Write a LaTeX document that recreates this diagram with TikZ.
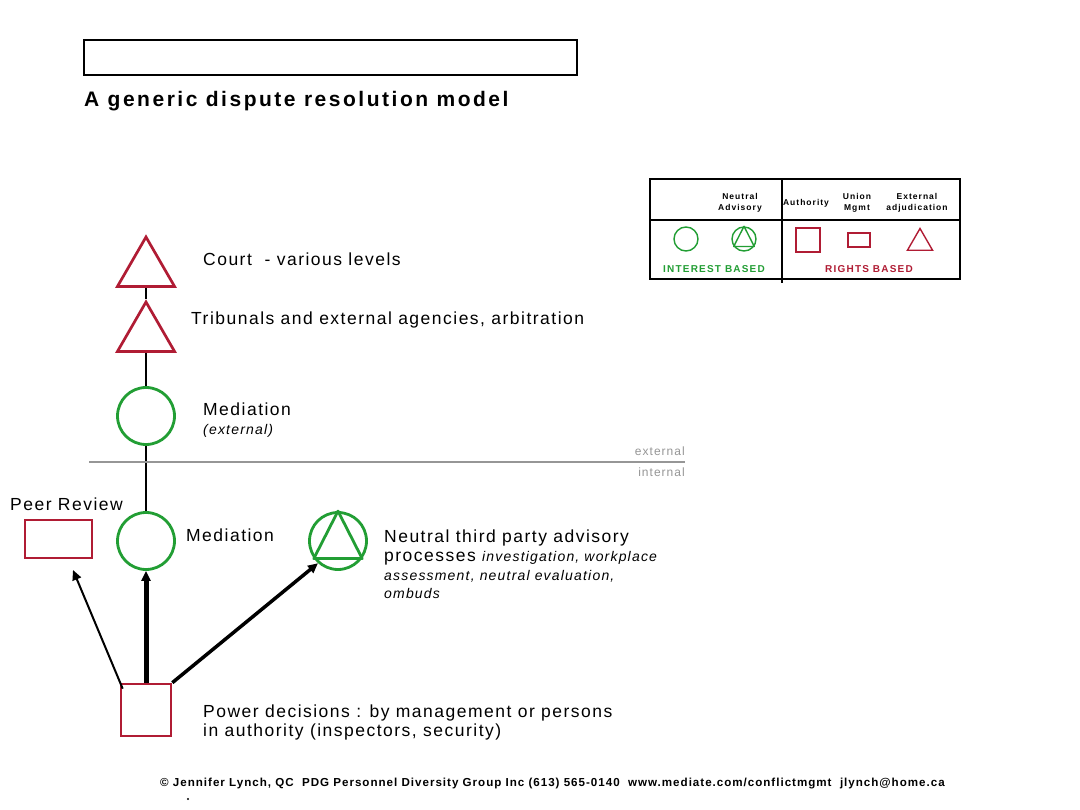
\documentclass[tikz,border=0pt]{standalone}
\usepackage{fontspec}
\setmainfont{Liberation Sans}
\newfontfamily\spaced[LetterSpace=8.5]{Liberation Sans}
\newfontfamily\wspaced[LetterSpace=12]{Liberation Sans}
\usetikzlibrary{shapes.geometric,arrows.meta}
\definecolor{rred}{RGB}{176,28,52}
\definecolor{ggreen}{RGB}{34,158,52}
\definecolor{lgray}{RGB}{150,150,150}
\begin{document}
\begin{tikzpicture}[x=1pt,y=-1pt,
 tri/.style={regular polygon,regular polygon sides=3,draw=rred,line width=2.7pt,minimum size=66pt,inner sep=0pt},
 circ/.style={circle,draw=ggreen,line width=2.8pt,minimum size=57pt,inner sep=0pt},
 sqbox/.style={rectangle,draw=rred,inner sep=0pt},
 lbl/.style={anchor=base west,inner sep=0pt,font=\spaced\fontsize{17.5}{20}\selectfont},
 sm/.style={anchor=base west,inner sep=0pt,font=\spaced\fontsize{14}{16}\selectfont\itshape},
 hdr/.style={align=center,inner sep=0pt,font=\wspaced\fontsize{8.5}{10.5}\selectfont\bfseries},
 lgc/.style={circle,draw=ggreen,line width=1.4pt,minimum size=24pt,inner sep=0pt},
 conn/.style={line width=1.2pt},
 arr/.style={-{Triangle[length=10pt,width=9pt]}}
]
\useasboundingbox[fill=white] (0,0) rectangle (1080,810);

% title
\draw[line width=1.2pt] (84,40) rectangle (577,75);
\node[anchor=base west,inner sep=0pt,font=\wspaced\fontsize{21}{24}\selectfont\bfseries] (title) at (84,107) {A generic dispute resolution model};

% main column
\node[tri] (court) at (146,270) {};
\node[tri] (trib) at (146,335) {};
\node[circ] (medx) at (146,416) {};
\node[circ] (medi) at (146,541) {};
\node[circ] (neut) at (338,541) {};
\draw[draw=ggreen,line width=2.8pt,line join=round] (neut.north) -- (neut.-36) -- (neut.216) -- cycle;
\node[sqbox,line width=2.6pt,minimum width=50pt,minimum height=52pt] (pow) at (146,710) {};
\node[sqbox,line width=1.6pt,minimum width=67pt,minimum height=38pt] (peer) at (58.5,539) {};
\coordinate (peertip) at (73,570);

\draw[conn] (court.side 2) -- (trib.corner 1);
\draw[conn] (trib.side 2) -- (medx.north);
\draw[conn] (medx.south) -- (medi.north);

% divider
\draw[lgray,line width=1.3pt] (89,462) -- (685,462);
\node[anchor=base east,inner sep=0pt,text=lgray,font=\spaced\fontsize{12}{14}\selectfont] (extl) at (685,456) {external};
\node[anchor=base east,inner sep=0pt,text=lgray,font=\spaced\fontsize{12}{14}\selectfont] (intl) at (685,476) {internal};

% labels
\node[lbl] (tcourt) at (203,266) {Court \ - various levels};
\node[lbl] (ttrib) at (191,325) {Tribunals and external agencies, arbitration};
\node[lbl] (tmedx) at (203,416) {Mediation};
\node[sm] (tmedx2) at (203,435) {(external)};
\node[lbl] (tmedi) at (186,541) {Mediation};
\node[lbl] (tpeer) at (10,510) {Peer Review};
\node[lbl] (tneut1) at (384,542) {Neutral third party advisory};
\node[lbl] (tneut2) at (384,561) {processes \fontsize{14}{16}\selectfont\itshape investigation, workplace};
\node[sm] (tneut3) at (384,580) {assessment, neutral evaluation,};
\node[sm] (tneut4) at (384,598) {ombuds};
\node[lbl] (tpow1) at (203,717) {Power decisions : by management or persons};
\node[lbl] (tpow2) at (203,736) {in authority (inspectors, security)};

% arrows
\draw[arr,line width=5pt] (pow.north) -- (medi.south);
\draw[arr,line width=3.5pt] (pow.north east) -- (neut.228);
\draw[arr,line width=2pt] ([xshift=3pt,yshift=-6pt]pow.north west) -- (peertip);

% legend
\draw[line width=1.5pt] (650,179) rectangle (960,279);
\draw[line width=1.5pt] (650,220) -- (960,220);
\draw[line width=1.5pt] (782,179) -- (782,283);
\node[hdr] (hna) at (740,203) {Neutral\\Advisory};
\node[hdr] (hau) at (806,203) {Authority};
\node[hdr] (hum) at (857,203) {Union\\Mgmt};
\node[hdr] (hex) at (917,203) {External\\adjudication};
\node[lgc] (lc1) at (686,239) {};
\node[lgc] (lc2) at (744,239) {};
\draw[draw=ggreen,line width=1.4pt,line join=round] (lc2.north) -- (lc2.-36) -- (lc2.216) -- cycle;
\node[sqbox,line width=1.4pt,minimum width=24pt,minimum height=24pt] (ls1) at (808,240) {};
\node[sqbox,line width=1.4pt,minimum width=22pt,minimum height=14pt] (ls2) at (859,240) {};
\node[regular polygon,regular polygon sides=3,draw=rred,line width=1.4pt,minimum size=29pt,inner sep=0pt] (lt) at (920,243) {};
\node[inner sep=0pt,text=ggreen,font=\wspaced\fontsize{10}{11}\selectfont\bfseries] (lib) at (714,269) {INTEREST BASED};
\node[inner sep=0pt,text=rred,font=\wspaced\fontsize{10}{11}\selectfont\bfseries] (lrb) at (869,269) {RIGHTS BASED};

% footer
\node[anchor=base west,inner sep=0pt,font=\spaced\fontsize{11.6}{12}\selectfont\bfseries] (foot) at (160,786) {\copyright\ Jennifer Lynch, QC \ PDG Personnel Diversity Group Inc (613) 565-0140 \ www.mediate.com/conflictmgmt \ jlynch@home.ca};
\fill (188,799) circle (1.2pt);
\end{tikzpicture}
\end{document}
